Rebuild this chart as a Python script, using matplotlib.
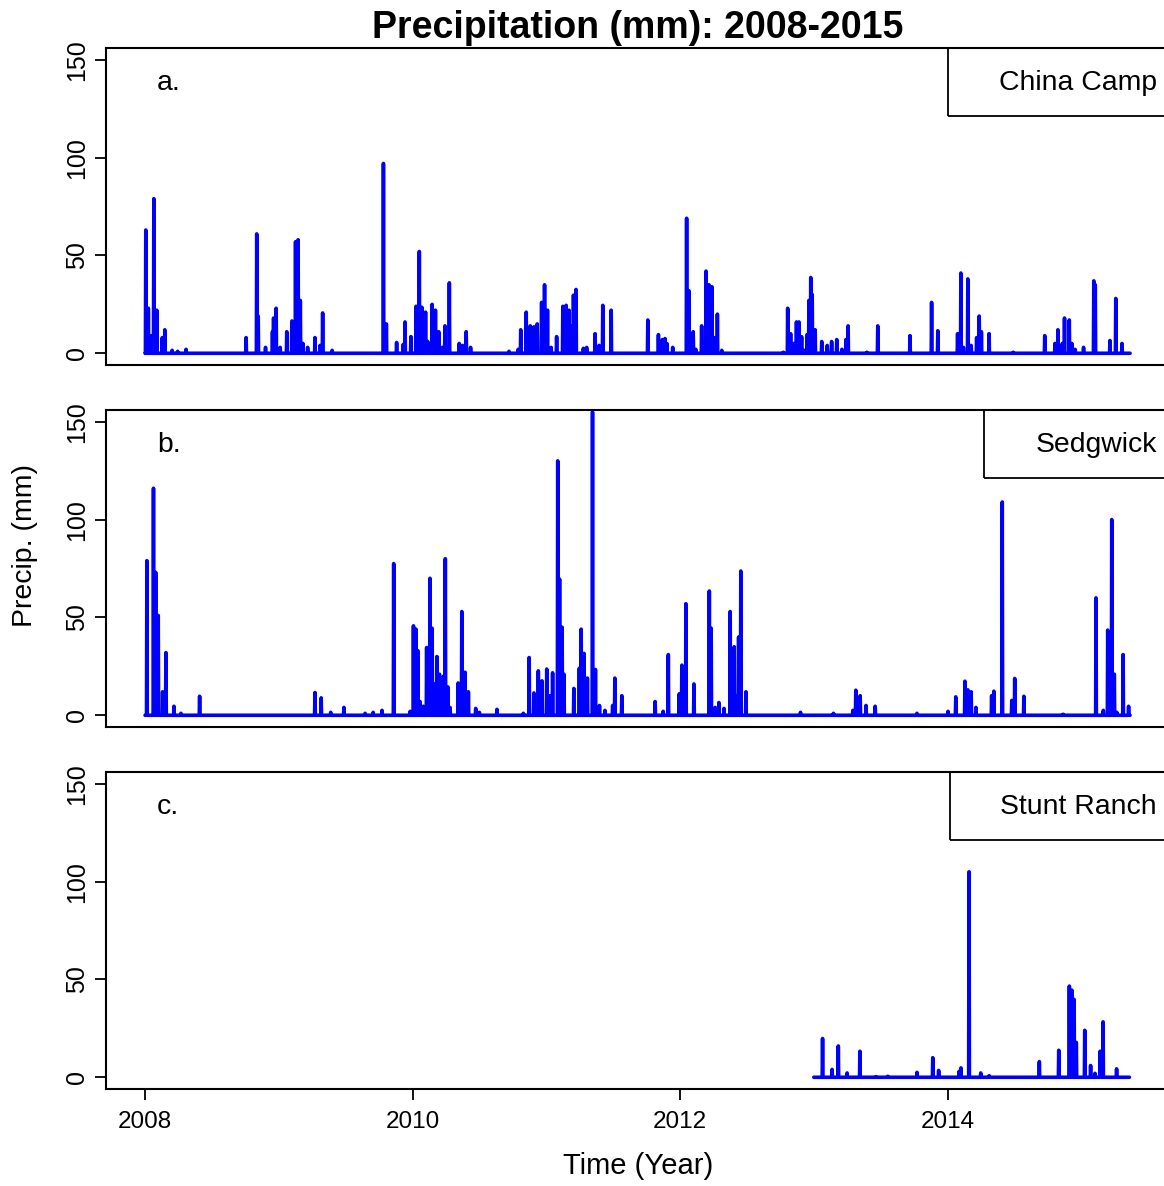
import numpy as np
import matplotlib
matplotlib.use("Agg")
import matplotlib.pyplot as plt
from matplotlib.patches import Rectangle

plt.rcParams['font.family'] = ['Liberation Sans', 'DejaVu Sans']

# Daily precipitation events (decimal year, mm); all other days are 0
china_years = [2008.005, 2008.025, 2008.050, 2008.065, 2008.087, 2008.129, 2008.147, 2008.202,
               2008.244, 2008.307, 2008.755, 2008.835, 2008.847, 2008.902, 2008.952, 2008.962,
               2008.979, 2009.009, 2009.059, 2009.099, 2009.124, 2009.144, 2009.161, 2009.179,
               2009.216, 2009.269, 2009.308, 2009.329, 2009.398, 2009.782, 2009.804, 2009.882,
               2009.931, 2009.944, 2009.987, 2010.026, 2010.051, 2010.071, 2010.096, 2010.114,
               2010.146, 2010.170, 2010.196, 2010.223, 2010.243, 2010.275, 2010.350, 2010.375,
               2010.400, 2010.435, 2010.721, 2010.791, 2010.809, 2010.849, 2010.879, 2010.908,
               2010.933, 2010.966, 2010.988, 2011.008, 2011.036, 2011.078, 2011.123, 2011.148,
               2011.170, 2011.190, 2011.202, 2011.222, 2011.277, 2011.302, 2011.364, 2011.394,
               2011.422, 2011.484, 2011.759, 2011.838, 2011.868, 2011.888, 2011.901, 2011.945,
               2012.050, 2012.067, 2012.099, 2012.117, 2012.162, 2012.194, 2012.217, 2012.237,
               2012.254, 2012.279, 2012.312, 2012.772, 2012.805, 2012.828, 2012.852, 2012.872,
               2012.890, 2012.910, 2012.927, 2012.950, 2012.964, 2012.977, 2012.989, 2013.009,
               2013.059, 2013.101, 2013.134, 2013.172, 2013.209, 2013.239, 2013.256, 2013.396,
               2013.478, 2013.720, 2013.882, 2013.927, 2014.076, 2014.101, 2014.118, 2014.153,
               2014.176, 2014.218, 2014.236, 2014.253, 2014.310, 2014.492, 2014.727, 2014.804,
               2014.826, 2014.858, 2014.876, 2014.911, 2014.929, 2014.953, 2015.018, 2015.095,
               2015.105, 2015.215, 2015.258, 2015.305]
china_mm = [63, 23, 9, 79, 22, 8, 12, 1.5,
            1, 2, 8, 61, 19, 3, 11, 18,
            23, 3, 11, 16.5, 57, 58, 27, 5,
            3, 8, 4, 20.6, 1.5, 97, 15, 5.5,
            4.5, 16, 8.5, 24, 52, 23.5, 21, 6,
            25, 22, 11, 3, 14, 36, 5, 4,
            11, 3, 1, 2, 12, 21, 14, 13.5,
            15, 26, 35, 22, 3, 8.5, 24, 24.5,
            22, 14, 29.7, 32.6, 2.5, 3, 10, 4,
            24.5, 22, 17, 9.5, 7, 7.5, 5, 3,
            69, 32, 11, 2, 14, 42, 35, 34,
            8, 20, 1.5, 0.5, 23, 10, 5, 16,
            16, 8.5, 1.5, 9.5, 27, 38.7, 30, 12,
            6, 4, 6, 7, 2, 7, 14, 0.5,
            14, 9, 26, 11.5, 10, 41, 3, 38,
            4, 8, 19, 11, 10, 0.5, 9, 5,
            12, 5, 18, 17, 5, 2, 3, 37,
            35, 6.5, 28, 5]

sedg_years = [2008.013, 2008.062, 2008.080, 2008.099, 2008.132, 2008.155, 2008.215, 2008.267,
              2008.409, 2009.271, 2009.316, 2009.388, 2009.486, 2009.645, 2009.707, 2009.772,
              2009.859, 2009.981, 2010.006, 2010.026, 2010.041, 2010.056, 2010.081, 2010.106,
              2010.131, 2010.146, 2010.161, 2010.181, 2010.200, 2010.230, 2010.245, 2010.265,
              2010.280, 2010.342, 2010.368, 2010.393, 2010.417, 2010.473, 2010.499, 2010.630,
              2010.829, 2010.873, 2010.908, 2010.941, 2010.968, 2011.003, 2011.028, 2011.048,
              2011.086, 2011.098, 2011.118, 2011.133, 2011.205, 2011.247, 2011.262, 2011.282,
              2011.307, 2011.347, 2011.367, 2011.397, 2011.439, 2011.497, 2011.514, 2011.564,
              2011.813, 2011.875, 2011.912, 2011.995, 2012.015, 2012.045, 2012.105, 2012.219,
              2012.232, 2012.264, 2012.289, 2012.329, 2012.376, 2012.404, 2012.424, 2012.439,
              2012.454, 2012.493, 2012.902, 2013.146, 2013.291, 2013.314, 2013.348, 2013.391,
              2013.458, 2013.772, 2014.004, 2014.061, 2014.129, 2014.151, 2014.176, 2014.211,
              2014.331, 2014.346, 2014.410, 2014.480, 2014.502, 2014.572, 2014.864, 2015.110,
              2015.165, 2015.198, 2015.228, 2015.247, 2015.265, 2015.312, 2015.355]
sedg_mm = [79, 116, 73, 51, 12, 32, 4.6, 1,
           9.7, 11.6, 8.9, 1.5, 4, 1, 1.5, 2.5,
           77.5, 2, 45.7, 44, 33, 7, 4.6, 34.6,
           70, 44.5, 16, 30, 21, 20, 80, 14.5,
           4, 16.5, 53, 22, 12, 3.5, 1.5, 3,
           1, 29.5, 11.4, 22.7, 17.6, 23.6, 10, 21.7,
           130, 69.6, 45, 21, 13.7, 24, 44, 31.6,
           19, 155, 23.4, 5, 2.5, 5, 19, 10,
           7, 2, 31, 11, 25.6, 57, 16, 63.5,
           44.5, 4, 6.5, 3.5, 53, 35, 10, 40,
           73.7, 12, 1.5, 1, 2.5, 12.8, 10, 5,
           4.6, 1, 2, 9.4, 17.4, 13, 12, 4,
           10, 12.3, 109, 7.6, 18.8, 9.7, 0.5, 60,
           2.5, 43.5, 100, 21, 1.5, 31, 4.6]

stunt_years = [2013.067, 2013.136, 2013.183, 2013.249, 2013.346, 2013.465, 2013.553, 2013.772,
               2013.889, 2013.934, 2014.088, 2014.101, 2014.161, 2014.248, 2014.312, 2014.686,
               2014.831, 2014.911, 2014.929, 2014.946, 2014.963, 2015.026, 2015.071, 2015.103,
               2015.140, 2015.163, 2015.265]
stunt_mm = [19.8, 4, 16, 2.2, 13.3, 0.3, 0.5, 2.5,
            10, 3.5, 3, 4.8, 105, 2.2, 0.8, 8,
            13.8, 46.6, 44.5, 39.8, 17.8, 24, 6, 2,
            13.3, 28.3, 4.3]

stations = ["China Camp", "Sedgwick", "Stunt Ranch"]
panel_tags = ["a.", "b.", "c."]
record_start = [2008.0, 2008.0, 2013.0]
record_end = [2015.364, 2015.364, 2015.359]
event_years = [china_years, sedg_years, stunt_years]
event_mm = [china_mm, sedg_mm, stunt_mm]

y_ticks = [0, 50, 100, 150]
x_ticks = [2008, 2010, 2012, 2014]


def daily_series(start, end, years, mm):
    n = int(round((end - start) * 365.25)) + 1
    t = start + np.arange(n) / 365.25
    v = np.zeros(n)
    for yr, val in zip(years, mm):
        i = int(round((yr - start) * 365.25))
        v[i] = max(v[i], val)
    return t, v


W, H = 1164, 1186
fig = plt.figure(figsize=(W / 100, H / 100), dpi=100)

x_lo, x_hi = 2007.705, 2015.659
ax_left = 105.6 / W
ax_width = (1169.4 - 105.6) / W
panel_tops = [48, 410, 772]
panel_h = 317

# legend box left edges (px) for each station label
box_lefts = [948, 984, 950]

for k in range(3):
    bottom = 1 - (panel_tops[k] + panel_h) / H
    ax = fig.add_axes([ax_left, bottom, ax_width, panel_h / H])
    t, v = daily_series(record_start[k], record_end[k], event_years[k], event_mm[k])
    ax.plot(t, v, color="#0000FF", lw=2.6, solid_joinstyle="round", solid_capstyle="round")
    ax.set_xlim(x_lo, x_hi)
    ax.set_ylim(-6, 156)
    ax.set_yticks(y_ticks)
    ax.set_yticklabels([str(y) for y in y_ticks], rotation=90, va="center", fontsize=18)
    ax.tick_params(axis="y", direction="out", length=8, width=1.3, pad=4, colors="black")
    for s in ax.spines.values():
        s.set_linewidth(1.5)
    if k < 2:
        ax.set_xticks([])
    else:
        ax.set_xticks(x_ticks)
        ax.set_xticklabels([str(x) for x in x_ticks], fontsize=17.5)
        ax.tick_params(axis="x", direction="out", length=8, width=1.3, pad=8)

    axw_px = ax_width * W
    bl = (box_lefts[k] - 105.6) / axw_px
    bh = 68 / panel_h
    ax.add_patch(Rectangle((bl, 1 - bh), 1.2, bh, transform=ax.transAxes,
                           fill=False, edgecolor="black", lw=1.3, clip_on=False))
    ax.text((1157 - 105.6) / axw_px, 1 - 35 / panel_h, stations[k], transform=ax.transAxes,
            ha="right", va="center", fontsize=20.4)
    ax.text((157 - 105.6) / axw_px, 1 - 35 / panel_h, panel_tags[k], transform=ax.transAxes,
            ha="left", va="center", fontsize=20.4)

fig.text(638 / W, 1 - 28 / H, "Precipitation (mm): 2008-2015", ha="center", va="center",
         fontsize=27, fontweight="bold")
fig.text(638 / W, 1 - 1166 / H, "Time (Year)", ha="center", va="center", fontsize=21)
fig.text(25 / W, 1 - 546 / H, "Precip. (mm)", ha="center", va="center", rotation=90, fontsize=20.5)

fig.savefig("out.png", dpi=100)
